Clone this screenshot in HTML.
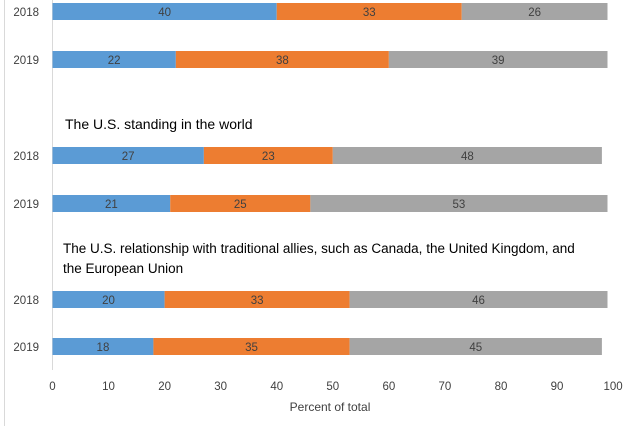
<!DOCTYPE html>
<html><head><meta charset="utf-8"><style>
body{margin:0;background:#fff;width:638px;height:426px;overflow:hidden;font-family:"Liberation Sans",sans-serif}
</style></head><body>
<svg id="c" width="638" height="426" xmlns="http://www.w3.org/2000/svg">
<line x1="4.5" y1="0" x2="4.5" y2="426" stroke="#d9d9d9"/>
<line x1="52.5" y1="0" x2="52.5" y2="370" stroke="#d9d9d9"/>
<text x="65" y="129" font-size="14" fill="#000">The U.S. standing in the world</text>
<text x="63" y="253" font-size="13.5" fill="#000">The U.S. relationship with traditional allies, such as Canada, the United Kingdom, and</text>
<text x="63" y="273" font-size="13.5" fill="#000">the European Union</text>
<text x="330" y="411" font-size="12" fill="#404040" text-anchor="middle">Percent of total</text>
</svg>
<script>
const years=["2018","2019","2018","2019","2018","2019"];
const s1=[40,22,27,21,20,18];
const s2=[33,38,23,25,33,35];
const s3=[26,39,48,53,46,45];
const ticks=[0,10,20,30,40,50,60,70,80,90,100];
const rowTops=[3,51,147,195,291,338];
const colors=["#5b9bd5","#ed7d31","#a5a5a5"];
const svg=document.getElementById('c');
const NS="http://www.w3.org/2000/svg";
const x=v=>52.5+v*5.606;
function mk(t,a){const e=document.createElementNS(NS,t);for(const k in a)e.setAttribute(k,a[k]);svg.appendChild(e);return e;}
years.forEach((yr,i)=>{
 const y=rowTops[i];
 const l=mk('text',{x:39,y:y+13,'font-size':11.5,fill:'#404040','text-anchor':'end'});
 l.textContent=yr;
 
 
 let acc=0;
 [s1[i],s2[i],s3[i]].forEach((v,j)=>{
  const r=mk('rect',{x:x(acc),y:y,width:x(acc+v)-x(acc),height:17,fill:colors[j]});
  
  
  const t=mk('text',{x:(x(acc)+x(acc+v))/2,y:y+13,'font-size':11.5,fill:'#404040','text-anchor':'middle'});
  t.textContent=v;
  
  
  acc+=v;
 });
});
ticks.forEach(v=>{
 const t=mk('text',{x:x(v),y:390,'font-size':11.5,fill:'#404040','text-anchor':'middle'});
 t.textContent=v;
 
 
});
</script>
</body></html>
